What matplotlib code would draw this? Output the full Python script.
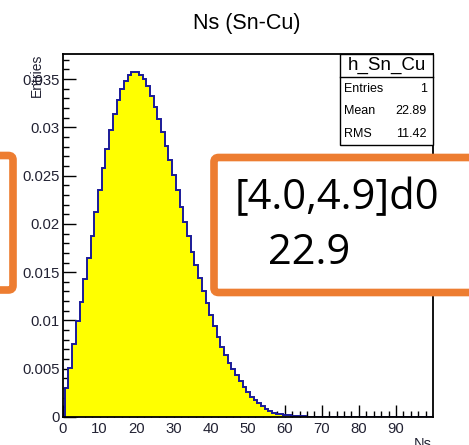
import numpy as np
import matplotlib
matplotlib.use("Agg")
import matplotlib.pyplot as plt
from matplotlib.patches import Rectangle, FancyBboxPatch
from matplotlib.lines import Line2D

# ---------------- data ----------------
title = "Ns (Sn-Cu)"
hist_name = "h_Sn_Cu"
stat_names = ["Entries", "Mean", "RMS"]
stat_values = ["1", "22.89", "11.42"]
x_label = "Ns"
y_label = "Entries"
annot_line1 = "[4.0,4.9]d0"
annot_line2 = "22.9"

bin_values = [
    0.0030, 0.0051, 0.0076, 0.0099, 0.0119, 0.0143, 0.0165, 0.0188, 0.0212, 0.0235,
    0.0258, 0.0278, 0.0297, 0.0314, 0.0328, 0.0340, 0.0348, 0.0354, 0.0357, 0.0357,
    0.0354, 0.0350, 0.0343, 0.0333, 0.0321, 0.0309, 0.0295, 0.0281, 0.0266, 0.0251,
    0.0235, 0.0218, 0.0202, 0.0187, 0.0171, 0.0157, 0.0144, 0.0130, 0.0118, 0.0106,
    0.0094, 0.0083, 0.0073, 0.0064, 0.0056, 0.0050, 0.0044, 0.0037, 0.0031, 0.0026,
    0.0021, 0.0018, 0.0014, 0.0011, 0.0008, 0.0006, 0.00045, 0.00033, 0.00028, 0.0002,
    0.00016, 0.00012, 0.0001, 0.00008, 0.00006, 0.00004, 0.00003, 0.00002, 0.00002, 0.00001,
    0, 0, 0, 0, 0, 0, 0, 0, 0, 0,
    0, 0, 0, 0, 0, 0, 0, 0, 0, 0,
    0, 0, 0, 0, 0, 0, 0, 0, 0, 0,
]
y_ticks = [0, 0.005, 0.01, 0.015, 0.02, 0.025, 0.03, 0.035]
y_tick_labels = ["0", "0.005", "0.01", "0.015", "0.02", "0.025", "0.03", "0.035"]
x_ticks = [0, 10, 20, 30, 40, 50, 60, 70, 80, 90]
x_tick_labels = ["0", "10", "20", "30", "40", "50", "60", "70", "80", "90"]

# ---------------- figure ----------------
W, H = 469, 445
fig = plt.figure(figsize=(W / 100, H / 100), dpi=100)
fig.patch.set_facecolor("white")
plt.rcParams["font.family"] = ["Liberation Sans", "DejaVu Sans"]

def fx(px):
    return px / W

def fy(py):
    return 1 - py / H

ax_l, ax_r, ax_t, ax_b = 62.5, 433, 54, 417
ax = fig.add_axes([fx(ax_l), fy(ax_b), (ax_r - ax_l) / W, (ax_b - ax_t) / H])

edges = np.arange(len(bin_values) + 1) + 0.6
ax.stairs(bin_values, edges, fill=True, color="#ffff00", zorder=2)
ax.stairs(bin_values, edges, color="#1a1a99", linewidth=1.4, zorder=3)

ax.set_xlim(0, 100)
ax.set_ylim(0, 0.0376)

tick_color = "#222233"
ax.set_yticks(y_ticks)
ax.set_yticklabels(y_tick_labels)
ax.set_xticks(x_ticks)
ax.set_xticklabels(x_tick_labels)
ax.set_yticks(np.arange(0, 0.0376, 0.001), minor=True)
ax.set_xticks(np.arange(0, 100, 2), minor=True)
ax.tick_params(axis="both", which="major", direction="in", length=9, width=1.0,
               labelsize=10.7, labelcolor=tick_color, color="black")
ax.tick_params(axis="both", which="minor", direction="in", length=4.5, width=1.0, color="black")
ax.tick_params(axis="y", which="major", pad=2)
ax.tick_params(axis="x", which="major", pad=3.5)
for s in ax.spines.values():
    s.set_linewidth(1.3)
    s.set_color("black")
    s.set_zorder(4)

# axis titles (ROOT style)
fig.text(fx(37), fy(54), y_label, rotation=90, ha="center", va="top",
         fontsize=10, color=tick_color)
fig.text(fx(432), fy(437), x_label, ha="right", va="top", fontsize=10.5, color=tick_color)

# title
fig.text(fx(247), fy(24), title, ha="center", va="center", fontsize=15.5, color="black")

# stats box
bx0, bx1, by0, by1, bsep = 340, 433, 53.5, 145, 76.7
fig.add_artist(Rectangle((fx(bx0), fy(by1)), (bx1 - bx0) / W, (by1 - by0) / H,
                         transform=fig.transFigure, facecolor="white",
                         edgecolor="black", linewidth=1.0, zorder=5))
fig.add_artist(Line2D([fx(bx0), fx(bx1)], [fy(bsep), fy(bsep)], transform=fig.transFigure,
                      color="black", linewidth=1.0, zorder=6))
fig.text(fx((bx0 + bx1) / 2), fy(65.5), hist_name, ha="center", va="center",
         fontsize=13.5, color="black", zorder=7)
row_y = [89, 111, 134]
for name, val, ry in zip(stat_names, stat_values, row_y):
    fig.text(fx(344), fy(ry), name, ha="left", va="center", fontsize=9, color="black", zorder=7)
    fig.text(fx(427), fy(ry), val, ha="right", va="center", fontsize=9, color="black", zorder=7)

# orange slide annotation boxes
orange = "#ed7d31"
fig.add_artist(FancyBboxPatch((fx(-60), fy(290)), (13 + 60) / W, (290 - 155.5) / H,
                              boxstyle="round,pad=0,rounding_size=0.01",
                              transform=fig.transFigure, facecolor="white",
                              edgecolor=orange, linewidth=5.5, zorder=8))
fig.add_artist(FancyBboxPatch((fx(214), fy(292.5)), (560 - 214) / W, (292.5 - 157.5) / H,
                              boxstyle="round,pad=0,rounding_size=0.01",
                              transform=fig.transFigure, facecolor="white",
                              edgecolor=orange, linewidth=5.5, zorder=8))
fig.text(fx(235), fy(198), annot_line1, ha="left", va="center", fontsize=30,
         family=["Open Sans", "DejaVu Sans"], color="black", zorder=9)
fig.text(fx(268), fy(253), annot_line2, ha="left", va="center", fontsize=30,
         family=["Open Sans", "DejaVu Sans"], color="black", zorder=9)

fig.savefig("out.png", dpi=100)
